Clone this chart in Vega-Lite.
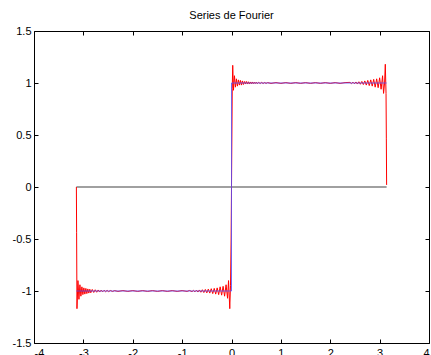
{
  "$schema": "https://vega.github.io/schema/vega-lite/v6.json",
  "autosize": {"type": "none"},
  "padding": {"left": 34, "top": 31, "right": 2, "bottom": 12},
  "width": 395,
  "height": 312,
  "background": "white",
  "title": {"text": "Series de Fourier", "fontSize": 11, "font": "Liberation Sans", "fontWeight": "normal", "color": "black", "offset": 4, "anchor": "middle"},
  "config": {
    "font": "Liberation Sans",
    "view": {"stroke": "black", "strokeWidth": 1},
    "axis": {"grid": false, "domain": false, "tickColor": "black", "tickSize": -4, "labelFontSize": 11, "labelColor": "black", "labelFont": "Liberation Sans", "title": null}
  },
  "datasets": {
    "gray": [{"x": -3.1416, "y": 0}, {"x": 3.1416, "y": 0}],
    "blue": [{"x": -3.1416, "y": -1}, {"x": 0, "y": -1}, {"x": 0, "y": 1}, {"x": 3.1416, "y": 1}],
    "red": [
      {"x": -3.1416, "y": 0}, {"x": -3.137, "y": -0.44}, {"x": -3.13, "y": -1.17}, {"x": -3.11, "y": -0.9}, {"x": -3.09, "y": -1.08}, {"x": -3.07, "y": -0.94}, {"x": -3.05, "y": -1.05}, {"x": -3.03, "y": -0.96}, {"x": -3.01, "y": -1.035}, {"x": -2.99, "y": -0.97}, {"x": -2.97, "y": -1.03}, {"x": -2.95, "y": -0.975}, {"x": -2.93, "y": -1.025}, {"x": -2.91, "y": -0.98}, {"x": -2.89, "y": -1.02}, {"x": -2.87, "y": -0.983}, {"x": -2.85, "y": -1.017}, {"x": -2.82, "y": -0.985}, {"x": -2.79, "y": -1.014}, {"x": -2.76, "y": -0.988}, {"x": -2.73, "y": -1.012}, {"x": -2.7, "y": -0.99}, {"x": -2.67, "y": -1.01}, {"x": -2.64, "y": -0.992}, {"x": -2.61, "y": -1.008}, {"x": -2.58, "y": -0.993}, {"x": -2.55, "y": -1.007}, {"x": -2.52, "y": -0.994}, {"x": -2.49, "y": -1.006}, {"x": -2.45, "y": -0.995}, {"x": -2.41, "y": -1.005}, {"x": -2.37, "y": -0.996},
      {"x": -2.3, "y": -1.004}, {"x": -2.2, "y": -0.996}, {"x": -2.1, "y": -1.004}, {"x": -2.0, "y": -0.996}, {"x": -1.9, "y": -1.004}, {"x": -1.8, "y": -0.996}, {"x": -1.7, "y": -1.004}, {"x": -1.6, "y": -0.996}, {"x": -1.5, "y": -1.004}, {"x": -1.4, "y": -0.996}, {"x": -1.3, "y": -1.004}, {"x": -1.2, "y": -0.996}, {"x": -1.1, "y": -1.004}, {"x": -1.0, "y": -0.996}, {"x": -0.9, "y": -1.004}, {"x": -0.85, "y": -0.995},
      {"x": -0.8, "y": -1.006}, {"x": -0.77, "y": -0.994}, {"x": -0.74, "y": -1.008}, {"x": -0.71, "y": -0.992}, {"x": -0.68, "y": -1.01}, {"x": -0.65, "y": -0.99}, {"x": -0.62, "y": -1.012}, {"x": -0.59, "y": -0.988}, {"x": -0.56, "y": -1.015}, {"x": -0.53, "y": -0.985}, {"x": -0.5, "y": -1.018}, {"x": -0.47, "y": -0.982}, {"x": -0.44, "y": -1.02}, {"x": -0.41, "y": -0.978}, {"x": -0.38, "y": -1.025}, {"x": -0.35, "y": -0.975}, {"x": -0.32, "y": -1.03}, {"x": -0.29, "y": -0.97}, {"x": -0.26, "y": -1.035}, {"x": -0.23, "y": -0.96}, {"x": -0.2, "y": -1.04}, {"x": -0.17, "y": -0.955}, {"x": -0.14, "y": -1.05}, {"x": -0.11, "y": -0.94}, {"x": -0.08, "y": -1.07}, {"x": -0.06, "y": -0.9}, {"x": -0.035, "y": -1.17}, {"x": -0.02, "y": -0.95}, {"x": -0.008, "y": -0.5}, {"x": 0, "y": 0},
      {"x": 0.008, "y": 0.5}, {"x": 0.015, "y": 0.95}, {"x": 0.025, "y": 1.17}, {"x": 0.04, "y": 0.93}, {"x": 0.06, "y": 1.07}, {"x": 0.08, "y": 0.96}, {"x": 0.1, "y": 1.04}, {"x": 0.12, "y": 0.97}, {"x": 0.14, "y": 1.03}, {"x": 0.16, "y": 0.98}, {"x": 0.18, "y": 1.025}, {"x": 0.2, "y": 0.98}, {"x": 0.22, "y": 1.02}, {"x": 0.24, "y": 0.985}, {"x": 0.26, "y": 1.015}, {"x": 0.28, "y": 0.99}, {"x": 0.3, "y": 1.015}, {"x": 0.32, "y": 0.99}, {"x": 0.34, "y": 1.012}, {"x": 0.36, "y": 0.99}, {"x": 0.38, "y": 1.01}, {"x": 0.4, "y": 0.992}, {"x": 0.42, "y": 1.01}, {"x": 0.44, "y": 0.993}, {"x": 0.46, "y": 1.008}, {"x": 0.48, "y": 0.994}, {"x": 0.5, "y": 1.008}, {"x": 0.52, "y": 0.994}, {"x": 0.55, "y": 1.006}, {"x": 0.58, "y": 0.995}, {"x": 0.61, "y": 1.006}, {"x": 0.64, "y": 0.995}, {"x": 0.67, "y": 1.005}, {"x": 0.7, "y": 0.996}, {"x": 0.73, "y": 1.004},
      {"x": 0.8, "y": 0.996}, {"x": 0.9, "y": 1.004}, {"x": 1.0, "y": 0.996}, {"x": 1.1, "y": 1.004}, {"x": 1.2, "y": 0.996}, {"x": 1.3, "y": 1.004}, {"x": 1.4, "y": 0.996}, {"x": 1.5, "y": 1.004}, {"x": 1.6, "y": 0.996}, {"x": 1.7, "y": 1.004}, {"x": 1.8, "y": 0.996}, {"x": 1.9, "y": 1.004}, {"x": 2.0, "y": 0.996}, {"x": 2.1, "y": 1.004}, {"x": 2.2, "y": 0.996}, {"x": 2.3, "y": 1.004},
      {"x": 2.4, "y": 1.006}, {"x": 2.43, "y": 0.994}, {"x": 2.46, "y": 1.008}, {"x": 2.49, "y": 0.993}, {"x": 2.52, "y": 1.01}, {"x": 2.55, "y": 0.99}, {"x": 2.58, "y": 1.012}, {"x": 2.61, "y": 0.988}, {"x": 2.64, "y": 1.015}, {"x": 2.67, "y": 0.985}, {"x": 2.7, "y": 1.02}, {"x": 2.73, "y": 0.98}, {"x": 2.76, "y": 1.025}, {"x": 2.79, "y": 0.975}, {"x": 2.82, "y": 1.03}, {"x": 2.85, "y": 0.97}, {"x": 2.88, "y": 1.035}, {"x": 2.91, "y": 0.96}, {"x": 2.94, "y": 1.04}, {"x": 2.97, "y": 0.955}, {"x": 3.0, "y": 1.05}, {"x": 3.03, "y": 0.94}, {"x": 3.06, "y": 1.07}, {"x": 3.08, "y": 0.9}, {"x": 3.1, "y": 1.0}, {"x": 3.115, "y": 1.18}, {"x": 3.13, "y": 0.9}, {"x": 3.136, "y": 0.47}, {"x": 3.1416, "y": 0.02}
    ]
  },
  "layer": [
    {
      "data": {"name": "gray"},
      "mark": {"type": "line", "color": "#808080", "strokeWidth": 1.5, "clip": true},
      "encoding": {
        "x": {"field": "x", "type": "quantitative", "scale": {"domain": [-4, 4], "nice": false, "zero": false}, "axis": {"orient": "bottom", "values": [-4, -3, -2, -1, 0, 1, 2, 3, 4], "labelPadding": 8, "labelExpr": "(datum.value < 0 ? '-' : '') + format(abs(datum.value), '~g')"}},
        "y": {"field": "y", "type": "quantitative", "scale": {"domain": [-1.5, 1.5], "nice": false, "zero": false}, "axis": {"orient": "left", "values": [-1.5, -1, -0.5, 0, 0.5, 1, 1.5], "labelPadding": 7, "labelExpr": "(datum.value < 0 ? '-' : '') + format(abs(datum.value), '~g')"}},
        "order": {"value": null}
      }
    },
    {
      "data": {"name": "red"},
      "mark": {"type": "line", "color": "#ff0000", "strokeWidth": 1, "clip": true},
      "encoding": {
        "x": {"field": "x", "type": "quantitative", "axis": {"orient": "top", "values": [-4, -3, -2, -1, 0, 1, 2, 3, 4], "labels": false}},
        "y": {"field": "y", "type": "quantitative", "axis": {"orient": "right", "values": [-1.5, -1, -0.5, 0, 0.5, 1, 1.5], "labels": false}},
        "order": {"value": null}
      }
    },
    {
      "data": {"name": "blue"},
      "mark": {"type": "line", "color": "#5050ff", "strokeWidth": 1, "opacity": 0.8, "clip": true},
      "encoding": {
        "x": {"field": "x", "type": "quantitative", "axis": null},
        "y": {"field": "y", "type": "quantitative", "axis": null},
        "order": {"value": null}
      }
    }
  ],
  "resolve": {"axis": {"x": "independent", "y": "independent"}}
}
